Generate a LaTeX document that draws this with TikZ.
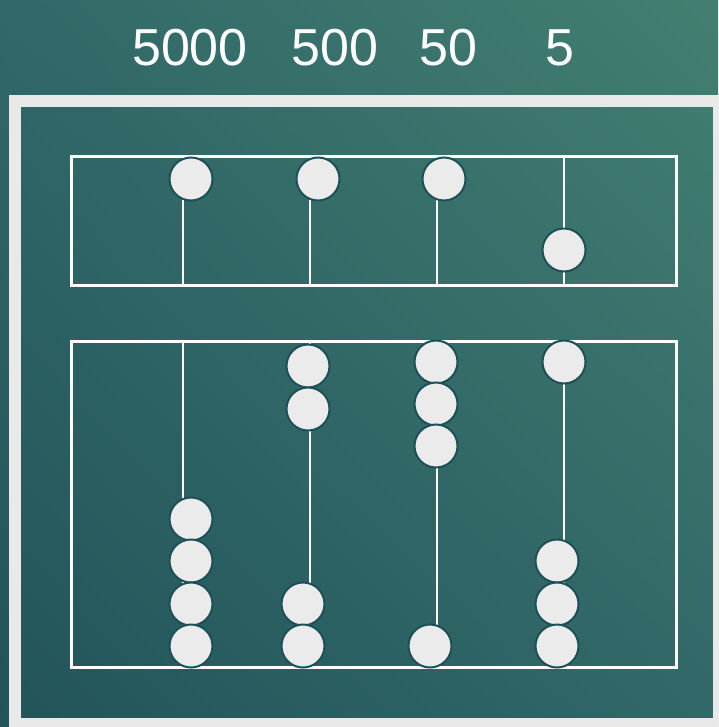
\documentclass[tikz,border=0pt]{standalone}
\usepackage{fontspec}
\setmainfont{Liberation Sans}
\usepackage{xcolor}
\usepackage{tikz}
\usetikzlibrary{shadings}
\definecolor{bgdark}{HTML}{22545A}
\definecolor{bgmid}{HTML}{316868}
\definecolor{bglight}{HTML}{437F71}
\definecolor{framegrey}{HTML}{E9E9E9}
\definecolor{beadfill}{HTML}{EBEBEB}
\definecolor{beadline}{HTML}{1E5057}

\begin{document}
\begin{tikzpicture}[
    x=1pt,y=-1pt,
    bead/.style={circle,draw=beadline,line width=2pt,fill=beadfill,minimum size=43pt,inner sep=0pt},
    rail/.style={draw=white,line width=3pt},
    rod/.style={draw=white,line width=2.8pt},
    lbl/.style={text=white,font=\fontsize{52}{60}\selectfont}
  ]
    \clip (0,0) rectangle (718,727);
    \shade[lower left=bgdark,upper left=bgmid,lower right=bgmid,upper right=bglight]
      (0,727) rectangle (718,0);
    \draw[framegrey,line width=12pt] (15,101) rectangle (719,724);

    % frame of the abacus
    \coordinate (upNW) at (71,157);
    \coordinate (upSE) at (676,285);
    \coordinate (loNW) at (71,341);
    \coordinate (loSE) at (676,667);
    \draw[rail] (upNW) rectangle (upSE);
    \draw[rail] (loNW) rectangle (loSE);

    % rods
    \foreach \x in {183,310,437,564} {
      \draw[rod] (\x,157) -- (\x,285);
      \draw[rod] (\x,341) -- (\x,646);
    }

    % upper beads
    \node[bead] (u1) at (191,179) {};
    \node[bead] (u2) at (318,179) {};
    \node[bead] (u3) at (444,179) {};
    \node[bead] (u4) at (564,250) {};

    % lower beads
    \foreach \y [count=\i] in {519,561,604,646}
      \node[bead] (th\i) at (191,\y) {};
    \node[bead] (hu1) at (308,366) {};
    \node[bead] (hu2) at (308,409) {};
    \node[bead] (hu3) at (303,604) {};
    \node[bead] (hu4) at (303,646) {};
    \foreach \y [count=\i] in {362,404,446}
      \node[bead] (te\i) at (436,\y) {};
    \node[bead] (te4) at (430,646) {};
    \node[bead] (on1) at (564,362) {};
    \foreach \y [count=\i from 2] in {561,604,646}
      \node[bead] (on\i) at (557,\y) {};

    % place values
    \node[lbl] (l5000) at (190,48) {5000};
    \node[lbl] (l500) at (335,48) {500};
    \node[lbl] (l50) at (448,48) {50};
    \node[lbl] (l5) at (560,48) {5};
  \end{tikzpicture}
\end{document}
